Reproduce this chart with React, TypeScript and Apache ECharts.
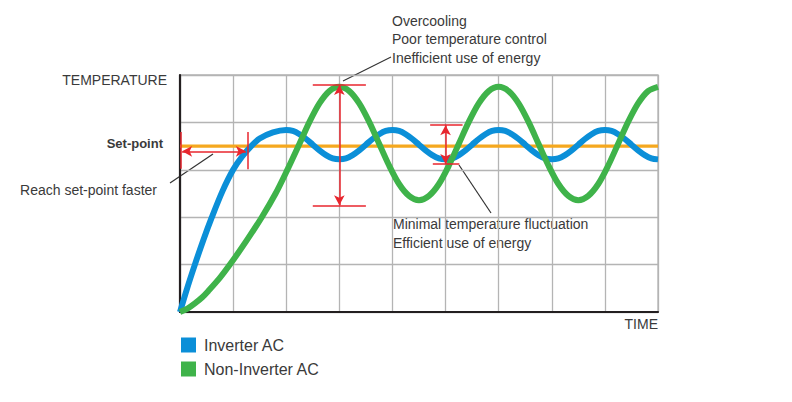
import React, { useEffect, useRef } from "react";
import * as echarts from "echarts";

// Time axis: 9 grid divisions, temperature axis: 5 grid divisions
const xMin = 0;
const xMax = 9;
const yMin = 0;
const yMax = 5;

const setPoint = 3.5;

// Inverter AC (blue): [time, temperature]
const inverterAC: [number, number][] = [
  [0, 0], [0.14, 0.52], [0.28, 1.0], [0.44, 1.52], [0.6, 2.0], [0.8, 2.55], [1.0, 3.0],
  [1.17, 3.28], [1.34, 3.5], [1.5, 3.66], [1.75, 3.79], [2.0, 3.84],
  [2.125, 3.82], [2.25, 3.75], [2.375, 3.65], [2.5, 3.53], [2.625, 3.41], [2.75, 3.31], [2.875, 3.24],
  [3.0, 3.22], [3.125, 3.24], [3.25, 3.31], [3.375, 3.41], [3.5, 3.53], [3.625, 3.65], [3.75, 3.75], [3.875, 3.82],
  [4.0, 3.84], [4.125, 3.82], [4.25, 3.75], [4.375, 3.65], [4.5, 3.53], [4.625, 3.41], [4.75, 3.31], [4.875, 3.24],
  [5.0, 3.22], [5.125, 3.24], [5.25, 3.31], [5.375, 3.41], [5.5, 3.53], [5.625, 3.65], [5.75, 3.75], [5.875, 3.82],
  [6.0, 3.84], [6.125, 3.82], [6.25, 3.75], [6.375, 3.65], [6.5, 3.53], [6.625, 3.41], [6.75, 3.31], [6.875, 3.24],
  [7.0, 3.22], [7.125, 3.24], [7.25, 3.31], [7.375, 3.41], [7.5, 3.53], [7.625, 3.65], [7.75, 3.75], [7.875, 3.82],
  [8.0, 3.84], [8.125, 3.82], [8.25, 3.75], [8.375, 3.65], [8.5, 3.53], [8.625, 3.41], [8.75, 3.31], [8.875, 3.24],
  [9.0, 3.22],
];

// Non-Inverter AC (green)
const nonInverterAC: [number, number][] = [
  [0, 0], [0.14, 0.07], [0.28, 0.18], [0.42, 0.31], [0.53, 0.44], [0.75, 0.72], [0.94, 1.0], [1.25, 1.5],
  [1.54, 2.0], [1.8, 2.5], [2.0, 2.95],
  [2.25, 3.55], [2.4375, 4.01], [2.625, 4.4], [2.8125, 4.66],
  [3.0, 4.75], [3.1875, 4.66], [3.375, 4.4], [3.5625, 4.01], [3.75, 3.55], [3.9375, 3.09], [4.125, 2.7], [4.3125, 2.45],
  [4.5, 2.36], [4.6875, 2.45], [4.875, 2.7], [5.0625, 3.09], [5.25, 3.55], [5.4375, 4.01], [5.625, 4.4], [5.8125, 4.66],
  [6.0, 4.75], [6.1875, 4.66], [6.375, 4.4], [6.5625, 4.01], [6.75, 3.55], [6.9375, 3.09], [7.125, 2.7], [7.3125, 2.45],
  [7.5, 2.36], [7.6875, 2.45], [7.875, 2.7], [8.0625, 3.09], [8.25, 3.55], [8.4375, 4.01], [8.625, 4.4], [8.8125, 4.66],
  [9.0, 4.75],
];

const setPointLine: [number, number][] = [
  [xMin, setPoint],
  [xMax, setPoint],
];

// Red annotation segments: [x1, y1, x2, y2, startArrow, endArrow]
const redMarks: [number, number, number, number, boolean, boolean][] = [
  [0.01, 3.8, 0.01, 3.02, false, false],
  [1.27, 3.8, 1.27, 3.01, false, false],
  [0.04, 3.39, 1.24, 3.39, true, true],
  [2.5, 4.79, 3.5, 4.79, false, false],
  [2.5, 2.25, 3.5, 2.25, false, false],
  [3.0, 4.79, 3.0, 2.25, true, true],
  [4.71, 3.94, 5.32, 3.94, false, false],
  [4.76, 3.12, 5.26, 3.12, false, false],
  [5.0, 3.94, 5.0, 3.12, true, true],
];

const legendNames = ["Inverter AC", "Non-Inverter AC"];

const BLUE = "#0b8fd8";
const GREEN = "#3fb34a";
const ORANGE = "#f5a81f";
const RED = "#e8262e";
const TEXT = "#3a3a3a";
const FONT = '"Liberation Sans", Arial, sans-serif';

export default function App() {
  const ref = useRef<HTMLDivElement>(null);

  useEffect(() => {
    if (!ref.current) return;
    const chart = echarts.init(ref.current, undefined, { renderer: "svg" });

    const txt = (
      text: string,
      x: number,
      y: number,
      align: string,
      size = 14,
      weight = "normal"
    ) => ({
      type: "text",
      x,
      y,
      silent: true,
      style: {
        text,
        fill: TEXT,
        font: `${weight} ${size}px ${FONT}`,
        textAlign: align,
        textVerticalAlign: "middle",
        align,
        verticalAlign: "middle",
      },
    });
    const leader = (x1: number, y1: number, x2: number, y2: number) => ({
      type: "line",
      silent: true,
      shape: { x1, y1, x2, y2 },
      style: { stroke: "#333", lineWidth: 1.2 },
    });

    chart.setOption({
      animation: false,
      backgroundColor: "#ffffff",
      grid: {
        left: 180,
        right: 134,
        top: 75,
        bottom: 90,
        show: true,
        borderColor: "#b4b4b4",
        borderWidth: 1.3,
        backgroundColor: "transparent",
      },
      legend: {
        data: legendNames,
        orient: "vertical",
        left: 181,
        top: 337,
        padding: 0,
        icon: "rect",
        itemWidth: 15,
        itemHeight: 15,
        itemGap: 8,
        selectedMode: false,
        textStyle: {
          color: TEXT,
          fontSize: 16,
          fontFamily: FONT,
          lineHeight: 15,
          padding: [0, 0, 0, 3],
        },
      },
      xAxis: {
        type: "value",
        min: xMin,
        max: xMax,
        interval: 1,
        axisLine: { show: true, onZero: false, lineStyle: { color: "#231f20", width: 2.2 } },
        axisTick: { show: false },
        axisLabel: { show: false },
        splitLine: { show: true, lineStyle: { color: "#b4b4b4", width: 1.3 } },
      },
      yAxis: {
        type: "value",
        min: yMin,
        max: yMax,
        interval: 1,
        axisLine: { show: true, onZero: false, lineStyle: { color: "#231f20", width: 2.2 } },
        axisTick: { show: false },
        axisLabel: { show: false },
        splitLine: { show: true, lineStyle: { color: "#b4b4b4", width: 1.3 } },
      },
      series: [
        {
          name: "Set-point",
          type: "line",
          data: setPointLine,
          showSymbol: false,
          symbol: "none",
          lineStyle: { color: ORANGE, width: 3.3 },
          itemStyle: { color: ORANGE },
          silent: true,
          z: 2,
        },
        {
          name: "Inverter AC",
          type: "line",
          data: inverterAC,
          smooth: 0.3,
          symbol: "none",
          lineStyle: { color: BLUE, width: 6 },
          itemStyle: { color: BLUE },
          silent: true,
          z: 3,
        },
        {
          name: "Non-Inverter AC",
          type: "line",
          data: nonInverterAC,
          smooth: 0.3,
          symbol: "none",
          lineStyle: { color: GREEN, width: 6 },
          itemStyle: { color: GREEN },
          silent: true,
          z: 4,
        },
        {
          name: "annotations",
          type: "line",
          data: [],
          silent: true,
          z: 5,
          markLine: {
            silent: true,
            animation: false,
            label: { show: false },
            lineStyle: { color: RED, width: 1.5, type: "solid" },
            symbolSize: [8, 10],
            data: redMarks.map(([x1, y1, x2, y2, a1, a2]) => [
              { coord: [x1, y1], symbol: a1 ? "arrow" : "none" },
              { coord: [x2, y2], symbol: a2 ? "arrow" : "none" },
            ]),
          },
        },
      ],
      graphic: [
        txt("Overcooling", 392, 20.5, "left"),
        txt("Poor temperature control", 392, 38.8, "left"),
        txt("Inefficient use of energy", 392, 57.5, "left"),
        txt("TEMPERATURE", 167, 80, "right"),
        txt("Set-point", 163, 143, "right", 13, "bold"),
        txt("Reach set-point faster", 157, 189.5, "right"),
        txt("Minimal temperature fluctuation", 393, 224.3, "left"),
        txt("Efficient use of energy", 393, 243.3, "left"),
        txt("TIME", 658, 324.3, "right"),
        leader(343, 81, 391, 57),
        leader(170, 183, 213, 154),
        leader(459, 165, 491, 213),
      ],
    });

    return () => chart.dispose();
  }, []);

  return (
    <div
      ref={ref}
      style={{ position: "fixed", left: 0, top: 0, width: 792, height: 402 }}
    />
  );
}
